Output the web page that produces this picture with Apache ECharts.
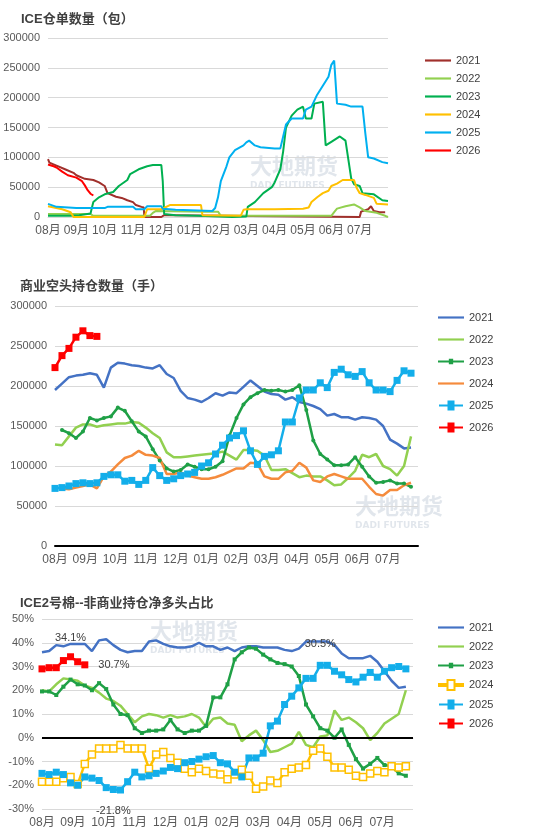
<!DOCTYPE html>
<html><head><meta charset="utf-8">
<script src="https://cdn.jsdelivr.net/npm/echarts@6/dist/echarts.min.js"></script>
<style>body{margin:0;background:#fff}div.c{position:absolute;left:0;width:545px}</style>
</head><body>
<div id="c1" class="c" style="top:0;height:270px"></div>
<div id="c2" class="c" style="top:270px;height:300px"></div>
<div id="c3" class="c" style="top:570px;height:265px"></div>
<script>
var months = ['08月','09月','10月','11月','12月','01月','02月','03月','04月','05月','06月','07月'];
var years = ['2021','2022','2023','2024','2025','2026'];

// ICE仓单数量: [月份位置, 千包]
var stock2021 = [[0,97],[0.05,91],[0.3,86],[0.6,80],[0.9,74],[1.0,70],[1.3,64],[1.6,62],[1.8,58],[2.0,52],[2.1,40],[2.4,34],[2.6,32],[2.8,28],[3.0,25],[3.1,20],[3.3,17],[3.38,16],[3.4,0],[4.0,0],[4.1,3],[4.3,3],[4.32,0],[11.0,0],[11.05,9],[11.3,13],[11.4,18],[11.5,10],[11.7,8],[11.9,8]];
var stock2022 = [[0,5],[1.5,5],[1.6,2],[3.6,2],[3.7,7],[3.8,10],[5.5,9],[6.0,9],[6.1,2],[10.0,2],[10.1,8],[10.2,14],[10.5,18],[10.8,21],[11.0,16],[11.2,10],[11.6,7],[11.9,2],[12,0]];
var stock2023 = [[0,2],[0.8,2],[1.1,3],[1.5,6],[1.6,25],[1.8,33],[2.0,38],[2.3,42],[2.5,52],[2.8,62],[2.9,72],[3.2,80],[3.5,85],[3.7,87],[4.0,87],[4.05,60],[4.1,5],[4.5,3],[5.3,2],[6.5,0],[7.0,1],[7.05,17],[7.3,25],[7.6,40],[7.9,50],[8.0,58],[8.2,80],[8.3,110],[8.4,150],[8.6,170],[8.8,180],[9.0,185],[9.1,165],[9.3,165],[9.4,190],[9.7,193],[9.8,120],[10.0,126],[10.3,135],[10.5,128],[10.7,65],[10.8,55],[11.0,52],[11.1,40],[11.5,38],[11.8,28],[12,27]];
var stock2024 = [[0,18],[0.5,13],[0.8,8],[0.9,0],[3.4,0],[3.5,13],[4.0,13],[4.3,20],[5.4,20],[5.45,3],[6.8,2],[6.9,12],[7.0,13],[8.0,13],[9.0,14],[9.2,16],[9.3,25],[9.5,33],[9.7,40],[9.9,44],[10.0,52],[10.2,56],[10.4,62],[10.8,62],[10.9,48],[11.0,40],[11.2,37],[11.5,32],[11.6,22],[12,21]];
var stock2025 = [[0,22],[0.05,19],[0.3,17],[1.0,15],[2.0,15],[2.1,17],[3.0,17],[3.1,13],[3.4,13],[3.5,18],[4.0,18],[4.05,14],[4.5,12],[5.8,10],[5.9,15],[6.0,33],[6.1,60],[6.3,85],[6.4,100],[6.6,112],[6.9,120],[7.0,125],[7.1,128],[7.3,120],[7.5,117],[8.0,115],[8.2,115],[8.3,135],[8.4,155],[8.6,165],[9.0,165],[9.1,180],[9.3,185],[9.5,205],[9.7,220],[9.9,235],[10.0,255],[10.1,262],[10.2,190],[10.5,188],[10.7,185],[11.1,185],[11.2,140],[11.3,100],[11.5,98],[11.8,92],[12,90]];
var stock2026 = [[0,88],[0.2,85],[0.3,83],[0.5,76],[0.7,70],[1.0,66],[1.2,60],[1.3,53],[1.4,45],[1.5,39],[1.6,36]];

// 商业空头持仓 (千手, 每周)
var short2021 = [195,203,211,213,214,216,214,198,223,229,228,226,225,223,222,226,215,210,194,185,183,180,185,191,188,192,191,199,207,200,193,190,189,183,186,180,178,175,171,163,165,161,161,158,161,160,158,150,133,128,122,123];
var short2022 = [127,126,137,148,152,152,149,151,152,153,153,155,154,148,141,135,117,111,111,112,113,114,115,116,118,113,108,120,120,119,113,95,95,96,91,86,88,87,87,82,76,77,85,94,114,111,115,100,96,88,100,137];
var short2023 = [null,145,141,135,143,160,157,160,162,173,169,156,143,137,121,107,97,93,95,102,99,96,96,99,106,138,160,177,186,191,195,194,195,193,195,201,170,132,115,108,101,101,102,111,99,87,79,80,82,78,78,74];
var short2024 = [null,72,71,73,75,77,72,87,93,102,110,113,119,114,113,110,90,90,92,88,86,84,84,86,89,93,97,97,104,103,87,84,84,92,94,104,98,82,80,87,90,87,84,84,84,74,65,63,70,70,76,79];
var short2025 = [72,73,75,78,79,78,79,87,89,89,81,82,77,82,98,88,82,84,88,90,92,100,104,115,126,135,138,144,119,102,112,114,119,155,155,185,195,195,204,198,217,221,214,212,218,204,195,195,193,207,219,216];
var short2026 = [223,238,247,261,269,263,262];

// 非商业净多头占比 (%, 每周)
var net2021 = [36,36.5,39,38.5,39.5,39.5,39.5,36.5,41,41.5,39,37,36,36.5,36.5,40.5,41,39.5,38.5,38,38,38.5,40,38.5,38.5,37,38,36.5,38,38.5,38.5,38,38,38,37,36.5,37.5,40.5,40.5,40.5,40.5,39,35.5,33.5,33.5,33.5,34.5,32,28,24,21,21.5];
var net2022 = [20,19.5,22.5,25,24.5,24,22,21,19,16.5,15.5,13.5,10,6.5,9,10,9.5,8.5,9.5,8.5,9,10,8.5,4.5,8,8.5,6,5.5,-1.5,1,3,-1,-6,-5.5,-4,-2.5,2.5,-3,-4,0.5,1,11.5,7.5,8.5,6.5,4,-1,2,6,8,10,20];
var net2023 = [19.5,19.5,18,21.5,24.5,22.5,22,20,23,20.5,14,10,9.5,4,2,3,3,3.5,7.5,3.5,2,3,3,5,17,17,22.5,33,36,38,37.5,35,33,31.5,31,30,26,14,9,4,3,0,3.5,-3,-9,-13,-11,-8.5,-11.5,-12,-15,-16];
var net2024 = [-18.5,-18.5,-18.5,-17,-16.5,-19.5,-11,-7,-4.5,-4.5,-4.5,-3,-4.5,-4.5,-4.5,-13,-7,-6,-8.5,-10.5,-13,-14.5,-13,-14,-15,-15.5,-17.5,-15.5,-13.5,-16,-21.5,-20.5,-18,-19,-14.5,-13,-12.5,-11.5,-5.5,-4.5,-8,-12.5,-12.5,-13.5,-16,-16.5,-15,-14,-14.5,-12,-12.5,-12];
var net2025 = [-15,-15.5,-14.5,-15.5,-19,-20,-16.5,-17,-18,-21,-21.8,-22,-18.5,-14.5,-16.5,-16,-15,-14,-12.5,-13,-10.5,-10,-9,-8,-7.5,-10.5,-11,-14.5,-16.5,-8.5,-8.5,-6.5,5,7,14,17.5,21,25,25,30.5,30.5,28,26.5,24.5,23.5,25.5,27.5,25.5,28,29.5,30,29];
var net2026 = [29,29.5,29.5,32.5,34.1,32,30.7];

var font = 'Liberation Sans, DejaVu Sans, Noto Sans CJK SC';
var lineIcon = 'path://M0,4h24v2h-24z';
var sqIcon = 'path://M0,4h8.5v-4h7v4h8.5v2h-8.5v4h-7v-4h-8.5z';
var dotIcon = 'path://M0,4h10v-1.5h4v1.5h10v2h-10v1.5h-4v-1.5h-10z';
function weekly(arr) { return arr.map(function (v, i) { return [i * 12 / 52, v]; }); }
function xAxis() {
    return { type: 'value', min: 0, max: 12, interval: 1,
        axisLine: { show: true, lineStyle: { color: '#d9d9d9' } }, axisTick: { show: false }, splitLine: { show: false },
        axisLabel: { color: '#595959', fontSize: 12, fontFamily: font, formatter: function (v) { return v < 12 ? months[v] : ''; } } };
}
function yAxis(min, max, interval, fmt) {
    return { type: 'value', min: min, max: max, interval: interval,
        axisLine: { show: false }, axisTick: { show: false },
        splitLine: { lineStyle: { color: '#d9d9d9' } },
        axisLabel: { color: '#595959', fontSize: 11, fontFamily: font, formatter: fmt || function (v) { return String(v); } } };
}
function title(text, left, top) {
    return { text: text, left: left, top: top, textStyle: { fontSize: 13, fontWeight: 'bold', color: '#404040', fontFamily: font } };
}
function legend(top, gap, icons) {
    return { orient: 'vertical', left: 433, top: top, itemGap: gap, itemWidth: 26, itemHeight: 10,
        data: years.map(function (y, i) { return { name: y, icon: icons[i] }; }),
        textStyle: { color: '#404040', fontSize: 11, fontFamily: font } };
}
function watermark(left, top) {
    return { type: 'group', left: left, top: top, silent: true, children: [
        { type: 'text', left: 0, top: 0, style: { text: '大地期货', fill: 'rgba(120,140,170,0.22)', font: 'bold 22px Noto Sans CJK SC' } },
        { type: 'text', left: 0, top: 26, style: { text: 'DADI FUTURES', fill: 'rgba(120,140,170,0.22)', font: 'bold 9px DejaVu Sans' } } ] };
}
function line(name, data, color, extra) {
    return Object.assign({ name: name, type: 'line', data: data, showSymbol: false, symbol: 'none',
        lineStyle: { width: 2.5, color: color }, itemStyle: { color: color }, animation: false }, extra || {});
}
function sq(size, fill) { return { symbol: 'rect', symbolSize: size, showSymbol: true, itemStyle: { color: fill } }; }

// 图1
var chart1 = echarts.init(document.getElementById('c1'));
var colors1 = ['#A0302C', '#92D050', '#00B050', '#FFC000', '#00B0F0', '#FF0000'];
var stocks = [stock2021, stock2022, stock2023, stock2024, stock2025, stock2026];
chart1.setOption({
    title: title('ICE仓单数量（包）', 16, 8),
    legend: Object.assign(legend(50, 7, years.map(function () { return lineIcon; })), { left: 420 }),
    grid: { left: 48, right: 157, top: 38, bottom: 53 },
    xAxis: xAxis(), yAxis: yAxis(0, 300000, 50000),
    graphic: [watermark(250, 155)],
    series: stocks.map(function (s, i) {
        return line(years[i], s.map(function (p) { return [p[0], p[1] * 1000]; }), colors1[i], { lineStyle: { width: 2, color: colors1[i] } });
    })
});

// 图2
var chart2 = echarts.init(document.getElementById('c2'));
var c2 = ['#4472C4', '#92D050', '#1FA046', '#F58B3C', '#13AEEA', '#FF0000'];
function k(arr) { return weekly(arr.map(function (v) { return v == null ? null : v * 1000; })); }
chart2.setOption({
    title: title('商业空头持仓数量（手）', 15, 5),
    legend: legend(37, 11, [lineIcon, lineIcon, dotIcon, lineIcon, sqIcon, sqIcon]),
    grid: { left: 55, right: 127, top: 36, bottom: 24 },
    xAxis: Object.assign(xAxis(), { axisLine: { show: true, lineStyle: { color: '#000', width: 2 } } }),
    yAxis: yAxis(0, 300000, 50000),
    graphic: [watermark(355, 225)],
    series: [
        line('2021', k(short2021), c2[0]),
        line('2022', k(short2022), c2[1]),
        line('2023', k(short2023), c2[2], { symbol: 'circle', symbolSize: 4, showSymbol: true }),
        line('2024', k(short2024), c2[3]),
        line('2025', k(short2025), c2[4], sq(7, c2[4])),
        line('2026', weekly(short2026.map(function (v) { return v * 1000; })), c2[5], sq(7, c2[5]))
    ]
});

// 图3
var chart3 = echarts.init(document.getElementById('c3'));
var c3 = ['#4472C4', '#92D050', '#1FA046', '#FFC000', '#13AEEA', '#FF0000'];
function lab(arr, idx, dist) {
    return weekly(arr).map(function (p, i) {
        return idx[i] ? { value: p, label: { show: true, position: idx[i], distance: dist || 5, color: '#404040', fontSize: 11, fontFamily: font, formatter: function (d) { return d.value[1].toFixed(1) + '%'; } } } : p;
    });
}
chart3.setOption({
    title: title('ICE2号棉--非商业持仓净多头占比', 15, 22),
    legend: legend(47, 8, [lineIcon, lineIcon, dotIcon, sqIcon, sqIcon, sqIcon]),
    grid: { left: 42, right: 132, top: 49, bottom: 26 },
    xAxis: xAxis(), yAxis: yAxis(-30, 50, 10, '{value}%'),
    graphic: [watermark(150, 50)],
    series: [
        line('2021', weekly(net2021), c3[0], { markLine: { silent: true, symbol: 'none', label: { show: false }, lineStyle: { color: '#000', width: 2, type: 'solid' }, data: [{ yAxis: 0 }] } }),
        line('2022', weekly(net2022), c3[1]),
        line('2023', weekly(net2023), c3[2], { symbol: 'rect', symbolSize: 4, showSymbol: true }),
        line('2024', weekly(net2024), c3[3], { symbol: 'rect', symbolSize: 7, showSymbol: true, itemStyle: { color: '#fff', borderColor: c3[3], borderWidth: 1.5 } }),
        line('2025', lab(net2025, { 10: 'bottom', 39: 'top' }, 12), c3[4], sq(7, c3[4])),
        line('2026', lab(net2026, { 4: 'top', 6: 'right' }, 10), c3[5], sq(7, c3[5]))
    ]
});
</script>
</body></html>
